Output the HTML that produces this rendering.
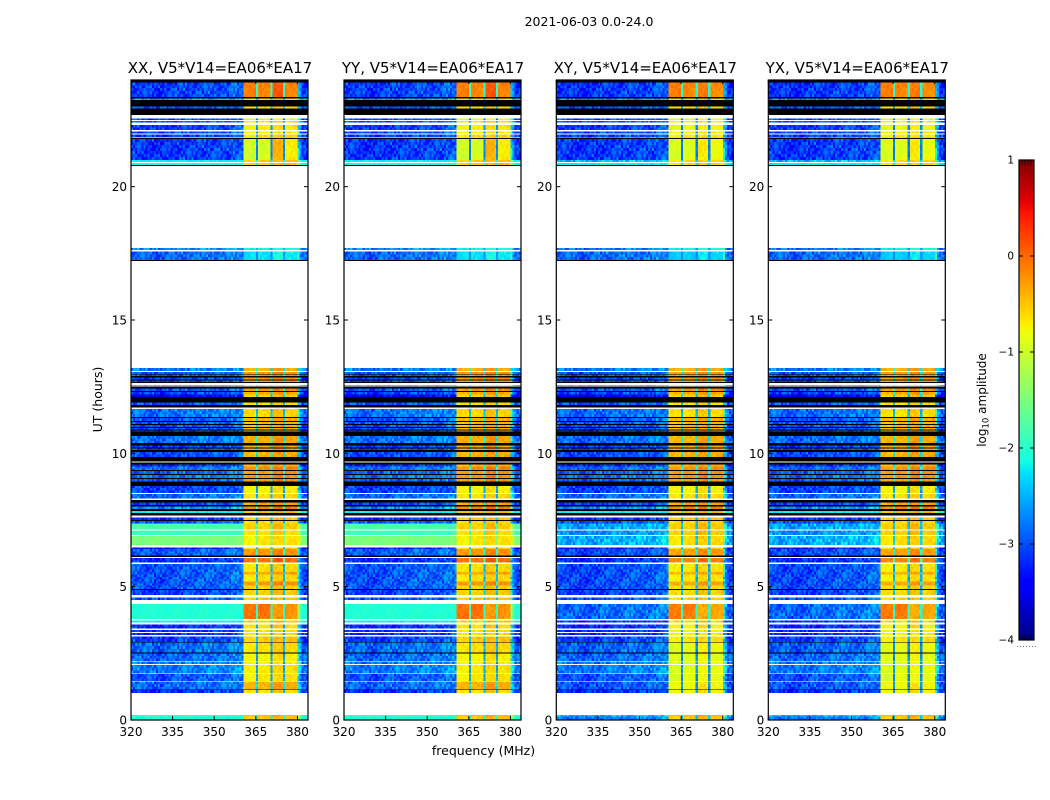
<!DOCTYPE html>
<html lang="en">
<head>
<meta charset="utf-8">
<title>2021-06-03 0.0-24.0 dynamic spectra</title>
<style>
html,body{margin:0;padding:0;background:#fff;}
svg{display:block;}
text{font-family:"DejaVu Sans","Liberation Sans",sans-serif;fill:#000;}
</style>
</head>
<body>
<svg id="figure" xmlns="http://www.w3.org/2000/svg" width="1050" height="800" viewBox="0 0 1050 800">
  <rect x="0" y="0" width="1050" height="800" fill="#fff"/>
  <text x="589" y="26" font-size="12.5" text-anchor="middle">2021-06-03 0.0-24.0</text>
  <text x="483.5" y="755" font-size="12.5" text-anchor="middle">frequency (MHz)</text>
  <text x="0" y="0" font-size="12.5" text-anchor="middle" transform="translate(102 399.5) rotate(-90)">UT (hours)</text>
  <text x="0" y="0" font-size="12" text-anchor="middle" transform="translate(986 400) rotate(-90)">log<tspan font-size="8.5" dy="2.5">10</tspan><tspan dy="-2.5"> amplitude</tspan></text>
  <g id="panels"></g>
  <g id="colorbar"></g>
</svg>
<script>
// Polarization panels
const panelTitles = ["XX, V5*V14=EA06*EA17", "YY, V5*V14=EA06*EA17", "XY, V5*V14=EA06*EA17", "YX, V5*V14=EA06*EA17"];
const panelIsCross = [false, false, true, true];
const xTicks = [320, 335, 350, 365, 380];
const yTicks = [0, 5, 10, 15, 20];
const colorbarTicks = [1, 0, -1, -2, -3, -4];

// Time bands: [top hour, bottom hour, low-band level (co), high-band level (co),
// low-band level (cross), high-band level (cross), optional sub-band offsets (co), optional sub-band offsets (cross)].
// Levels are log10 amplitude; -9 marks black flagged rows. Hours in no band are unobserved and stay white.
const timeBands = [
  [24,23.91,-9,-9,-9,-9],[23.91,23.37,-2.9,-.1,-2.95,-.15,[0,-.05,.2,-.05],[.05,0,.05,-.05]],[23.37,23.31,-9,-9,-9,-9],[23.31,23.25,-2.4,-.6,-2.5,-.6],
  [23.25,23,-9,-9,-9,-9],[23,22.94,-2.8,-.6,-2.8,-.6],[22.94,22.69,-9,-9,-9,-9],
  [22.56,22.5,-2.9,-.9,-2.9,-.9],[22.46,22.4,-2.8,-.6,-2.8,-.7],[22.31,22.13,-2.9,-.7,-2.9,-.8],
  [22.06,21.99,-2.9,-.7,-2.9,-.7],[21.96,21.87,-2.9,-.6,-2.9,-.7],[21.87,21.82,-2.1,-.6,-2.4,-.6],[21.82,21.79,-9,-9,-9,-9],
  [21.79,21,-2.95,-.8,-2.95,-.85,[-.2,-.15,.4,.1],[-.1,-.05,.15,.05]],[21,20.93,-2.2,-.5,-2.3,-.6],[20.89,20.81,-2.1,-.5,-2.2,-.6],[20.81,20.78,-9,-9,-9,-9],
  [17.7,17.62,-2.5,-2.1,-2.6,-2.1],[17.57,17.25,-2.7,-2.2,-2.7,-2.3],[17.25,17.21,-9,-9,-9,-9],
  [13.2,13.09,-2.6,-.35,-2.6,-.35],[13.05,12.98,-2.8,-.2,-2.8,-.25],[12.98,12.95,-9,-9,-9,-9],[12.95,12.9,-2.8,-.2,-2.8,-.25],[12.9,12.84,-9,-9,-9,-9],
  [12.84,12.77,-2.9,-.25,-2.9,-.3],[12.77,12.74,-9,-9,-9,-9],[12.74,12.68,-2.9,-.25,-2.9,-.3],
  [12.68,12.63,-9,-9,-9,-9],[12.57,12.54,-2.8,-.5,-2.8,-.5],[12.5,12.43,-9,-9,-9,-9],[12.43,12.34,-2.8,-.2,-2.8,-.2],
  [12.34,12.3,-9,-9,-9,-9],[12.3,12.2,-2.9,-.3,-2.9,-.3],[12.2,12.12,-3.3,-.5,-3.3,-.5],[12.12,11.9,-9,-9,-9,-9],
  [11.9,11.82,-2.8,-.6,-2.8,-.6],[11.82,11.71,-9,-9,-9,-9],[11.66,11.37,-2.65,-.55,-2.7,-.6],[11.37,11.32,-9,-9,-9,-9],
  [11.32,11.21,-2.8,-.35,-2.8,-.35],[11.21,11.17,-9,-9,-9,-9],[11.17,11.1,-2.8,-.4,-2.8,-.4],[11.1,11.06,-9,-9,-9,-9],
  [11.06,10.99,-2.85,-.4,-2.85,-.4],[10.99,10.95,-9,-9,-9,-9],[10.95,10.89,-2.85,-.4,-2.85,-.4],[10.89,10.86,-9,-9,-9,-9],[10.86,10.81,-2.85,-.4,-2.85,-.4],[10.81,10.65,-9,-9,-9,-9],
  [10.65,10.38,-2.65,-.3,-2.7,-.35],[10.38,10.3,-9,-9,-9,-9],[10.3,10.22,-2.9,-.3,-2.9,-.3],[10.22,10.19,-9,-9,-9,-9],[10.19,10.13,-2.9,-.3,-2.9,-.3],[10.13,10.05,-9,-9,-9,-9],
  [10.05,9.87,-2.85,-.35,-2.85,-.35],[9.87,9.7,-9,-9,-9,-9],[9.66,9.58,-9,-9,-9,-9],[9.58,9.5,-3,-.4,-3,-.4],
  [9.5,9.37,-2.65,-.15,-2.7,-.2],[9.37,9.34,-9,-9,-9,-9],[9.34,9.23,-2.75,-.2,-2.75,-.2],[9.23,9.19,-9,-9,-9,-9],
  [9.19,9.08,-2.65,-.2,-2.7,-.2],[9.08,9.04,-9,-9,-9,-9],[9.04,8.94,-2.75,-.2,-2.75,-.25],[8.94,8.78,-9,-9,-9,-9],
  [8.78,8.52,-2.9,-.7,-2.9,-.7],[8.48,8.3,-2.7,-.6,-2.7,-.6],[8.25,8.16,-9,-9,-9,-9],[8.16,8.06,-2.9,-.3,-2.9,-.3],
  [8.06,8.01,-9,-9,-9,-9],[8.01,7.91,-2.5,-.1,-2.5,-.1],[7.91,7.84,-9,-9,-9,-9],[7.84,7.76,-2.2,-.4,-2.2,-.4],
  [7.76,7.66,-9,-9,-9,-9],[7.59,7.5,-3,-.5,-3,-.5],[7.5,7.46,-9,-9,-9,-9],[7.46,7.37,-2.8,-.6,-2.8,-.6],
  [7.37,7.15,-1.8,-.5,-2.4,-.5],[7.11,6.94,-1.9,-.6,-2.5,-.5],[6.9,6.56,-1.5,-.65,-2.35,-.6],
  [6.47,6.41,-3.1,-.6,-3.1,-.6],[6.41,6.16,-2.75,-.2,-2.85,-.25],[6.16,6.12,-9,-9,-9,-9],[6.08,5.9,-3,0,-3,-.1],
  [5.85,5.55,-2.8,-.6,-2.85,-.65],[5.55,5.45,-2.8,-.3,-2.85,-.35],[5.45,5.2,-2.8,-.6,-2.85,-.65],[5.2,5.05,-2.8,-.2,-2.85,-.3],[5.05,4.92,-2.8,-.55,-2.85,-.6],
  [4.92,4.88,-9,-9,-9,-9],[4.88,4.69,-2.9,-.5,-2.9,-.55],[4.6,4.5,-2.8,-.5,-2.8,-.55],
  [4.35,3.79,-2.05,-.1,-2.7,-.15,[.05,.05,-.15,-.15],[.05,.05,-.2,-.2]],[3.74,3.65,-2.2,-.5,-3,-.55],[3.59,3.44,-3,-.6,-3,-.7],[3.38,3.3,-3,-.6,-3,-.7],
  [3.26,3.19,-3,-.6,-3,-.7],[3.14,2.93,-2.9,-.5,-2.9,-.65],[2.93,2.9,-9,-9,-9,-9],[2.9,2.54,-2.7,-.6,-2.75,-.8],
  [2.54,2.5,-9,-9,-9,-9],[2.5,2.22,-2.7,-.7,-2.7,-.85],[2.19,2.1,-2.6,-.7,-2.6,-.85],[2.07,1.75,-2.6,-.65,-2.6,-.85],
  [1.72,1.47,-2.8,-.65,-2.8,-.85],[1.44,1.15,-2.7,-.35,-2.8,-.75],[1.15,1.12,-9,-9,-9,-9],[1.12,1.02,-3,-.6,-3,-.7],
  [.18,.125,-1.9,-.4,-2.3,-.4],[.125,0,-2.1,-.5,-2.6,-.5]
];

// Spectral shape of the low band (log10 offset per 4 MHz bin, 320 to 384 MHz).
const lowShapeOffsets = [-.15,-.2,-.25,-.2,-.15,-.15,-.1,-.1,-.1,0,0,0,0,0,0,-.2];
// Extra brightness in the first two channels past the top of the bright region.
const edgeFalloff = [.8,.35];
// Bright sub-bands [start MHz, end MHz] with their level offsets, and the drop in the gaps between them.
const subBandRanges = [[360.5,365],[365.75,369.9],[370.9,375],[375.7,380]];
const subBandOffsets = [-.08,-.04,.08,0];
const subBandGapDrop = [1.9];
// Hand-estimated amplitude residuals used as a repeating speckle texture.
const speckleResiduals = [.12,-.2,.3,-.05,-.28,.18,.04,-.14,.34,-.22,.08,-.31,.22,-.02,.15,-.18,.27,-.09,-.25,.06,.38,-.16,.02,-.27,.2,.1,-.12,-.33,.25,-.07,.16,-.21,.05,.31,-.15,-.03,.24,-.29,.11,-.1,.19,-.24,.33,-.06,.09,-.19,.28,-.13,.01,-.3,.21,.13,-.17];
// Breakpoints of the jet colormap: [position, value] per channel.
const jetRed = [[0,0],[.35,0],[.66,1],[.89,1],[1,.5]];
const jetGreen = [[0,0],[.125,0],[.375,1],[.64,1],[.91,0],[1,0]];
const jetBlue = [[0,.5],[.11,1],[.34,1],[.65,0],[1,0]];

const SVG_NS = "http://www.w3.org/2000/svg";
const panelLefts = [131, 344, 556.3, 768.3];
const panelWidth = 177;
const plotTop = 80;
const plotBottom = 720;
const freqMin = 320;
const freqMax = 383.8;
const channelWidth = 0.75;
const channelCount = 85;
const maxRowHours = 0.12;
const levelMin = -4;
const levelMax = 1;

function xScale(left, mhz) { return left + (mhz - freqMin) / (freqMax - freqMin) * panelWidth; }
function yScale(hour) { return plotBottom - hour / 24 * (plotBottom - plotTop); }
function clamp01(v) { return Math.max(0, Math.min(1, v)); }
function ramp(knots, t) {
  for (let i = 1; i < knots.length; i++) {
    if (t <= knots[i][0]) {
      const a = knots[i - 1], b = knots[i];
      return a[1] + (b[1] - a[1]) * (t - a[0]) / (b[0] - a[0]);
    }
  }
  return knots[knots.length - 1][1];
}
function jetColor(level) {
  if (level < -5) return "#000";
  const t = clamp01((level - levelMin) / (levelMax - levelMin));
  return "rgb(" + Math.round(ramp(jetRed, t) * 255) + "," + Math.round(ramp(jetGreen, t) * 255) + "," + Math.round(ramp(jetBlue, t) * 255) + ")";
}
function make(tag, attrs, parent) {
  const el = document.createElementNS(SVG_NS, tag);
  for (const key in attrs) el.setAttribute(key, attrs[key]);
  parent.appendChild(el);
  return el;
}
function channelLevel(channel, row, low, high, bandOffsets) {
  const mhz = freqMin + channelWidth * (channel + 0.5);
  const residual = speckleResiduals[(channel * 3 + row * 17) % speckleResiduals.length];
  if (mhz >= subBandRanges[0][0] && mhz < subBandRanges[3][1]) {
    for (let s = 0; s < subBandRanges.length; s++) {
      if (mhz >= subBandRanges[s][0] && mhz < subBandRanges[s][1]) {
        const offset = bandOffsets ? bandOffsets[s] : subBandOffsets[s];
        return high + offset + residual * 0.3;
      }
    }
    return Math.max(high - subBandGapDrop[0], low) + residual * 0.3;
  }
  const smooth = low > -2.3;
  const past = Math.floor((mhz - subBandRanges[3][1]) / channelWidth);
  const bump = past >= 0 && past < edgeFalloff.length ? edgeFalloff[past] : 0;
  if (smooth) return low + bump + residual * 0.25;
  const bin = Math.min(lowShapeOffsets.length - 1, Math.floor((mhz - freqMin) / 4));
  return low + lowShapeOffsets[bin] + bump + residual;
}

function drawPanel(index, root) {
  const left = panelLefts[index];
  const cross = panelIsCross[index];
  const g = make("g", {}, root);
  
  
  const cells = make("g", { "shape-rendering": "crispEdges" }, g);
  
  
  let rowCounter = 0;
  timeBands.forEach(function (band) {
    const low = cross ? band[4] : band[2];
    const high = cross ? band[5] : band[3];
    const bandOffsets = cross ? band[7] : band[6];
    if (low < -5) {
      const flagged = make("rect", {
        x: left, y: yScale(band[0]), width: panelWidth,
        height: yScale(band[1]) - yScale(band[0]), fill: "#000"
      }, cells);
      
      
      return;
    }
    const rows = Math.max(1, Math.ceil((band[0] - band[1]) / maxRowHours));
    const rowHours = (band[0] - band[1]) / rows;
    for (let r = 0; r < rows; r++) {
      const topHour = band[0] - r * rowHours;
      const y0 = yScale(topHour);
      const y1 = yScale(topHour - rowHours);
      rowCounter++;
      for (let c = 0; c < channelCount; c++) {
        const x0 = xScale(left, freqMin + c * channelWidth);
        const x1 = xScale(left, freqMin + (c + 1) * channelWidth);
        const cell = make("rect", {
          x: x0.toFixed(2), y: y0.toFixed(2),
          width: (x1 - x0).toFixed(2), height: (y1 - y0).toFixed(2),
          fill: jetColor(channelLevel(c, rowCounter, low, high, bandOffsets))
        }, cells);
        
        
      }
    }
  });

  const frame = make("rect", {
    x: left, y: plotTop, width: panelWidth, height: plotBottom - plotTop,
    fill: "none", stroke: "#000", "stroke-width": 1.2
  }, g);
  
  

  xTicks.forEach(function (tick) {
    const x = xScale(left, tick);
    const bottomTick = make("line", { x1: x, x2: x, y1: plotBottom, y2: plotBottom - 4, stroke: "#000", "stroke-width": 1 }, g);
    
    
    const topTick = make("line", { x1: x, x2: x, y1: plotTop, y2: plotTop + 4, stroke: "#000", "stroke-width": 1 }, g);
    
    
    const label = make("text", { x: x, y: plotBottom + 16, "font-size": 12, "text-anchor": "middle" }, g);
    
    
    label.textContent = tick;
  });
  yTicks.forEach(function (tick) {
    const y = yScale(tick);
    const leftTick = make("line", { x1: left, x2: left + 4, y1: y, y2: y, stroke: "#000", "stroke-width": 1 }, g);
    
    
    const rightTick = make("line", { x1: left + panelWidth, x2: left + panelWidth - 4, y1: y, y2: y, stroke: "#000", "stroke-width": 1 }, g);
    
    
    const label = make("text", { x: left - 4, y: y + 4.5, "font-size": 12, "text-anchor": "end" }, g);
    
    
    label.textContent = tick;
  });
  const title = make("text", { x: left + panelWidth / 2 + 0.5, y: 73, "font-size": 15, "text-anchor": "middle" }, g);
  
  
  title.textContent = panelTitles[index];
}

function drawColorbar(root) {
  const cbLeft = 1019, cbWidth = 15, cbTop = 160, cbBottom = 640;
  const cbY = function (level) { return cbBottom - (level - levelMin) / (levelMax - levelMin) * (cbBottom - cbTop); };
  const defs = make("defs", {}, root);
  const gradient = make("linearGradient", { id: "jet-gradient", x1: 0, y1: 1, x2: 0, y2: 0 }, defs);
  for (let i = 0; i <= 64; i++) {
    make("stop", { offset: i / 64, "stop-color": jetColor(levelMin + (levelMax - levelMin) * i / 64) }, gradient);
  }
  const bar = make("rect", { x: cbLeft, y: cbTop, width: cbWidth, height: cbBottom - cbTop, fill: "url(#jet-gradient)" }, root);
  
  
  const frame = make("rect", { x: cbLeft, y: cbTop, width: cbWidth, height: cbBottom - cbTop, fill: "none", stroke: "#000", "stroke-width": 1.2 }, root);
  
  
  colorbarTicks.forEach(function (tick) {
    const y = cbY(tick);
    const leftMark = make("line", { x1: cbLeft, x2: cbLeft + 4, y1: y, y2: y, stroke: "#000", "stroke-width": 1 }, root);
    
    
    const rightMark = make("line", { x1: cbLeft + cbWidth, x2: cbLeft + cbWidth - 4, y1: y, y2: y, stroke: "#000", "stroke-width": 1 }, root);
    
    
    const label = make("text", { x: cbLeft - 5, y: y + 3.5, "font-size": 10.5, "text-anchor": "end" }, root);
    
    
    label.textContent = String(tick).replace("-", "\u2212");
  });
  [cbTop, cbBottom].forEach(function (edge) {
    const dir = edge === cbTop ? 1 : -1;
    for (let k = 1; k < 5; k++) {
      const x = cbLeft + k * cbWidth / 5;
      const minor = make("line", { x1: x, x2: x, y1: edge, y2: edge + dir * 5, stroke: "#000", "stroke-width": 0.8 }, root);
      
      
    }
  });
  const dots = make("line", { x1: cbLeft - 2, x2: cbLeft + cbWidth + 2, y1: 646.5, y2: 646.5, stroke: "#777", "stroke-width": 1, "stroke-dasharray": "1 2" }, root);
  
  
}

const panelRoot = document.getElementById("panels");
panelTitles.forEach(function (_, i) { drawPanel(i, panelRoot); });
drawColorbar(document.getElementById("colorbar"));
</script>
</body>
</html>
